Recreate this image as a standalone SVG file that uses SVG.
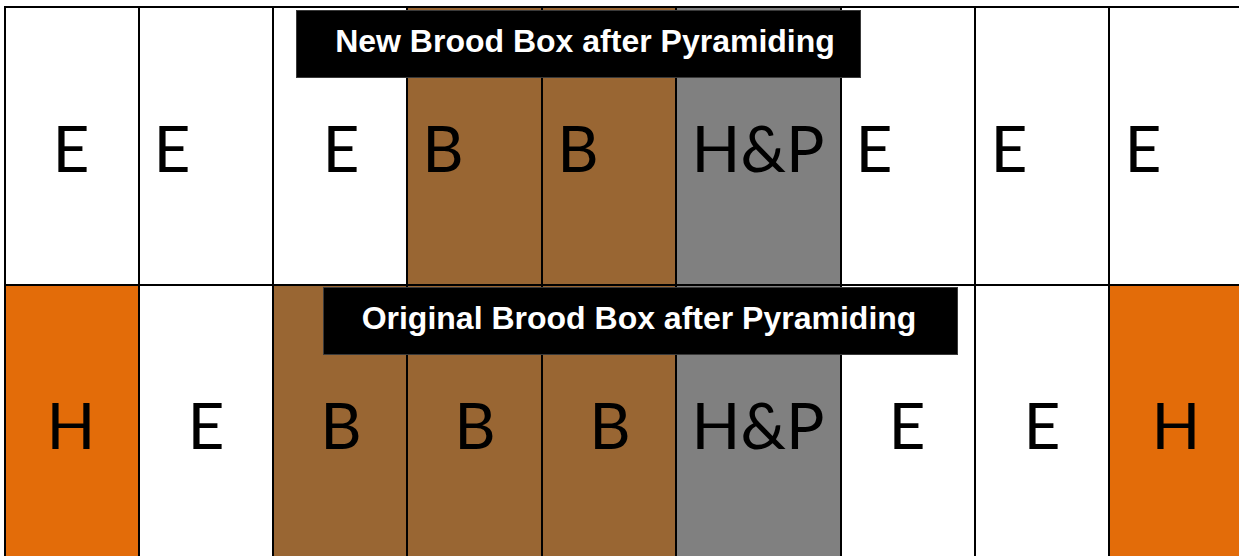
<svg xmlns="http://www.w3.org/2000/svg" width="1239" height="556" viewBox="0 0 1239 556">
<style>
.c{stroke:#000;stroke-width:2}
.w{fill:#fff}.b{fill:#996633}.g{fill:#808080}.o{fill:#E36C09}
.t{font-family:Lato,"Open Sans","Liberation Sans",sans-serif;font-size:64px;fill:#000;text-anchor:middle}
.lb{fill:#000;stroke:#3a3a3a;stroke-width:1}
.lt{font-family:"Liberation Sans",Arial,sans-serif;font-weight:bold;font-size:32px;fill:#fff;text-anchor:middle}
</style>
<rect width="1239" height="556" fill="#fff"/>
<g id="top-row">
<g id="t1"><rect class="c w" x="5" y="7" width="134" height="278"/><text class="t" x="71" y="172">E</text></g>
<g id="t2"><rect class="c w" x="139" y="7" width="134" height="278"/><text class="t" x="172" y="172">E</text></g>
<g id="t3"><rect class="c w" x="273" y="7" width="134" height="278"/><text class="t" x="341" y="172">E</text></g>
<g id="t4"><rect class="c b" x="407" y="7" width="135" height="278"/><text class="t" x="443" y="172">B</text></g>
<g id="t5"><rect class="c b" x="542" y="7" width="134" height="278"/><text class="t" x="578" y="172">B</text></g>
<g id="t6"><rect class="c g" x="676" y="7" width="165" height="278"/><text class="t" x="758" y="172">H&amp;P</text></g>
<g id="t7"><rect class="c w" x="841" y="7" width="134" height="278"/><text class="t" x="874" y="172">E</text></g>
<g id="t8"><rect class="c w" x="975" y="7" width="134" height="278"/><text class="t" x="1009" y="172">E</text></g>
<g id="t9"><rect class="c w" x="1109" y="7" width="140" height="278"/><text class="t" x="1143" y="172">E</text></g>
</g>
<g id="bottom-row">
<g id="b1"><rect class="c o" x="5" y="285" width="134" height="280"/><text class="t" x="71" y="449">H</text></g>
<g id="b2"><rect class="c w" x="139" y="285" width="134" height="280"/><text class="t" x="206" y="449">E</text></g>
<g id="b3"><rect class="c b" x="273" y="285" width="134" height="280"/><text class="t" x="341" y="449">B</text></g>
<g id="b4"><rect class="c b" x="407" y="285" width="135" height="280"/><text class="t" x="475" y="449">B</text></g>
<g id="b5"><rect class="c b" x="542" y="285" width="134" height="280"/><text class="t" x="610" y="449">B</text></g>
<g id="b6"><rect class="c g" x="676" y="285" width="165" height="280"/><text class="t" x="758" y="449">H&amp;P</text></g>
<g id="b7"><rect class="c w" x="841" y="285" width="134" height="280"/><text class="t" x="907" y="449">E</text></g>
<g id="b8"><rect class="c w" x="975" y="285" width="134" height="280"/><text class="t" x="1042" y="449">E</text></g>
<g id="b9"><rect class="c o" x="1109" y="285" width="140" height="280"/><text class="t" x="1176" y="449">H</text></g>
</g>
<g id="label-new">
<rect class="lb" x="296.5" y="10.5" width="564" height="67"/>
<text class="lt" x="585" y="52">New Brood Box after Pyramiding</text>
</g>
<g id="label-original">
<rect class="lb" x="323.5" y="287.5" width="634" height="67"/>
<text class="lt" x="639" y="329">Original Brood Box after Pyramiding</text>
</g>
</svg>
